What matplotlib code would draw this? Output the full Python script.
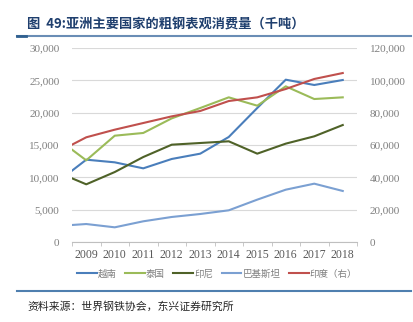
import matplotlib
matplotlib.use("Agg")
import matplotlib.pyplot as plt
import numpy as np

# ---- data ----
years = [2009, 2010, 2011, 2012, 2013, 2014, 2015, 2016, 2017, 2018]
# first value = where each line enters at the left edge of the plot
x_points = [2008.5] + years
vietnam = [11030, 12730, 12320, 11390, 12840, 13660, 16240, 20720, 25100, 24280, 25050]
thailand = [14280, 12630, 16440, 16860, 19120, 20720, 22370, 21080, 24070, 22110, 22370]
indonesia = [9850, 8920, 10820, 13140, 15050, 15310, 15570, 13660, 15210, 16340, 18090]
pakistan = [2630, 2780, 2270, 3200, 3870, 4330, 4900, 6550, 8090, 9020, 7890]
india = [60200, 64760, 69480, 73600, 77720, 81040, 87200, 89480, 94640, 100840, 104520]
names = ["越南", "泰国", "印尼", "巴基斯坦", "印度（右）"]
left_ticks = [0, 5000, 10000, 15000, 20000, 25000, 30000]
right_ticks = [0, 20000, 40000, 60000, 80000, 100000, 120000]
title = "图  49:亚洲主要国家的粗钢表观消费量（千吨）"
source = "资料来源：世界钢铁协会，东兴证券研究所"

colors = ["#4A7EBB", "#9BBB59", "#4F6228", "#7BA0D2", "#C0504D"]

plt.rcParams['font.family'] = ['Liberation Serif', 'Noto Sans CJK SC', 'DejaVu Sans']
cjk = ['Noto Sans CJK SC', 'DejaVu Sans']

fig = plt.figure(figsize=(4.13, 3.22), dpi=100)
ax = fig.add_axes([72/413, 1-242/322, (357-72)/413, (242-48)/322])
ax2 = ax.twinx()

handles = []
for vals, c, n in zip([vietnam, thailand, indonesia, pakistan], colors[:4], names[:4]):
    h, = ax.plot(x_points, vals, color=c, lw=1.5, label=n)
    handles.append(h)
h, = ax2.plot(x_points, india, color=colors[4], lw=1.5, label=names[4])
handles.append(h)

ax.set_xlim(2008.5, 2018.5)
ax.set_ylim(0, 30000)
ax2.set_ylim(0, 120000)
ax.set_yticks(left_ticks)
ax.set_yticklabels([f"{v:,}" for v in left_ticks])
ax2.set_yticks(right_ticks)
ax2.set_yticklabels([f"{v:,}" for v in right_ticks])
ax.set_xticks(years)
ax.set_xticklabels([str(y) for y in years])
ax.set_xticks([y - 0.5 for y in years] + [2018.5], minor=True)

ax.grid(axis='y', color='#D9D9D9', lw=0.8)
ax.set_axisbelow(True)
for a in (ax, ax2):
    for s in ['top', 'left', 'right', 'bottom']:
        a.spines[s].set_visible(False)
ax.spines['bottom'].set_visible(True)
ax.spines['bottom'].set_color('#BFBFBF')
ax.tick_params(axis='y', length=0, labelsize=8, labelcolor='#7F7F7F', pad=9)
ax2.tick_params(axis='y', length=0, labelsize=8, labelcolor='#7F7F7F', pad=9)
ax.tick_params(axis='x', which='major', length=0, labelsize=8.5, labelcolor='#595959', pad=5)
ax.tick_params(axis='x', which='minor', length=3, color='#BFBFBF')

leg = fig.legend(handles=handles, labels=names, loc='center', bbox_to_anchor=(217/413, 1-274/322),
                 ncol=5, frameon=False, prop={'family': cjk, 'size': 6.8},
                 handlelength=2.1, handletextpad=0.1, columnspacing=0.9)
for t in leg.get_texts():
    t.set_color('#7F7F7F')

fig.text(27/413, 1-25/322, title, family=cjk, fontsize=9.5, fontweight='bold',
         color='#1F3F6E', va='center', ha='left')
fig.add_artist(plt.Line2D([17/413, 411/413], [1-36/322, 1-36/322], color='#6A8DB5', lw=1.5))
fig.add_artist(plt.Line2D([17/413, 26/413], [1-35.5/322, 1-35.5/322], color='#2F5F8F', lw=2))
fig.add_artist(plt.Line2D([17/413, 411/413], [1-291/322, 1-291/322], color='#4F7FAF', lw=1.5))
fig.text(27/413, 1-306/322, source, family=cjk, fontsize=7.8, style='italic',
         color='#262626', va='center', ha='left')

fig.savefig("out.png", dpi=100)
